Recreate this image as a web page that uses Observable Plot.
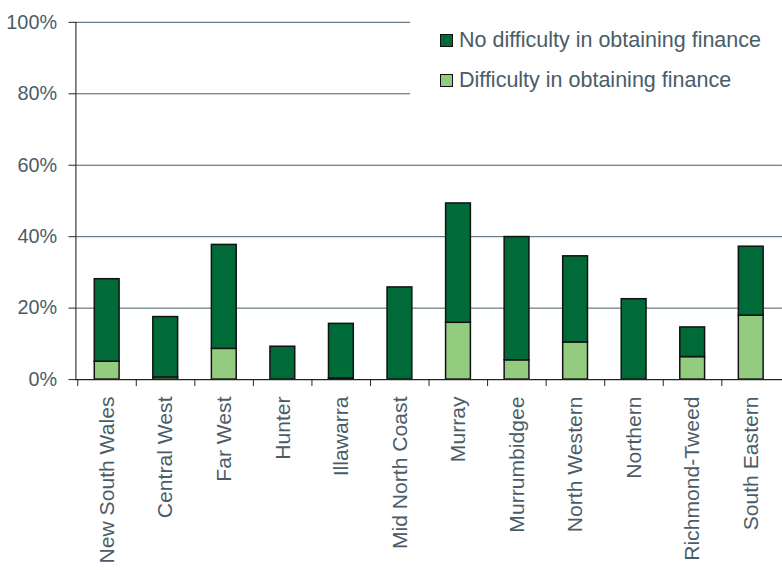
<!DOCTYPE html>
<html>
<head>
<meta charset="utf-8">
<script src="https://cdn.jsdelivr.net/npm/d3@7"></script>
<script src="https://cdn.jsdelivr.net/npm/@observablehq/plot@0.6"></script>
<style>
  html, body { margin: 0; padding: 0; background: #fff; overflow: hidden; }
  #wrap { position: relative; width: 782px; height: 570px; overflow: hidden; font-family: "Liberation Sans", Arial, sans-serif; }
  #legend { position: absolute; left: 410px; top: 0; width: 372px; height: 112px; background: #fff; }
  .row { position: absolute; left: 30px; display: flex; align-items: center; font-size: 21.5px; color: #4a5c68; white-space: nowrap; }
  .sw { width: 11px; height: 11px; border: 1.5px solid #111; margin-right: 6px; }
</style>
</head>
<body>
<div id="wrap"></div>
<script>
const categories = ["New South Wales", "Central West", "Far West", "Hunter", "Illawarra", "Mid North Coast", "Murray", "Murrumbidgee", "North Western", "Northern", "Richmond-Tweed", "South Eastern"];
const difficulty =   [5.0, 0.6, 8.6, 0, 0.3, 0, 15.9, 5.4, 10.4, 0, 6.3, 17.9];
const noDifficulty = [23.1, 16.9, 29.1, 9.2, 15.3, 25.8, 33.4, 34.5, 24.1, 22.5, 8.3, 19.3];
const seriesNames = ["Difficulty in obtaining finance", "No difficulty in obtaining finance"];
const seriesColors = ["#93cb7f", "#006a38"];
const yTicks = [0, 20, 40, 60, 80, 100];

const rows = [];
categories.forEach((c, i) => {
  rows.push({region: c, series: seriesNames[0], value: difficulty[i], order: 0});
  rows.push({region: c, series: seriesNames[1], value: noDifficulty[i], order: 1});
});

const W = 788, ML = 76, MR = 0;
const step = (W - ML - MR) / categories.length;
const textColor = "#4a5c68";

const chart = Plot.plot({
  width: W,
  height: 570,
  marginLeft: ML,
  marginRight: MR,
  marginTop: 22,
  marginBottom: 188,
  style: {fontFamily: "'Liberation Sans', Arial, sans-serif", background: "transparent", overflow: "visible"},
  x: {domain: categories, paddingInner: 0.57, paddingOuter: 0.285},
  y: {domain: [0, 100]},
  color: {domain: seriesNames, range: seriesColors},
  marks: [
    Plot.ruleY(yTicks.filter(d => d > 0), {stroke: "#4a5c68", strokeWidth: 1}),
    Plot.barY(rows.filter(d => d.value > 0), Plot.stackY({
      x: "region", y: "value", fill: "series", order: "order",
      stroke: "#111", strokeWidth: 1.5
    })),
    Plot.ruleY([0], {stroke: "#222", strokeWidth: 1.2}),
    Plot.ruleX(categories, {x: d => d, y1: () => 0, y2: () => 0, insetBottom: -7, dx: -step / 2, stroke: "#222"}),
    Plot.frame({anchor: "left", stroke: "#111"}),
    Plot.axisY({
      ticks: yTicks, tickFormat: d => d + "%", tickSize: 7, tickPadding: 12,
      fontSize: 20, stroke: "#222", fill: textColor, label: null
    }),
    Plot.axisX({
      tickSize: 0, tickRotate: -90, tickPadding: 17, fontSize: 21.3, fill: textColor, label: null
    })
  ]
});

const wrap = document.getElementById("wrap");
wrap.appendChild(chart);

const legend = document.createElement("div");
legend.id = "legend";
[[seriesNames[1], seriesColors[1], 40], [seriesNames[0], seriesColors[0], 80]].forEach(([name, col, cy]) => {
  const r = document.createElement("div");
  r.className = "row";
  r.style.top = (cy - 13) + "px";
  r.style.height = "26px";
  const sw = document.createElement("span");
  sw.className = "sw";
  sw.style.background = col;
  const t = document.createElement("span");
  t.textContent = name;
  r.appendChild(sw);
  r.appendChild(t);
  legend.appendChild(r);
});
wrap.appendChild(legend);
</script>
</body>
</html>
